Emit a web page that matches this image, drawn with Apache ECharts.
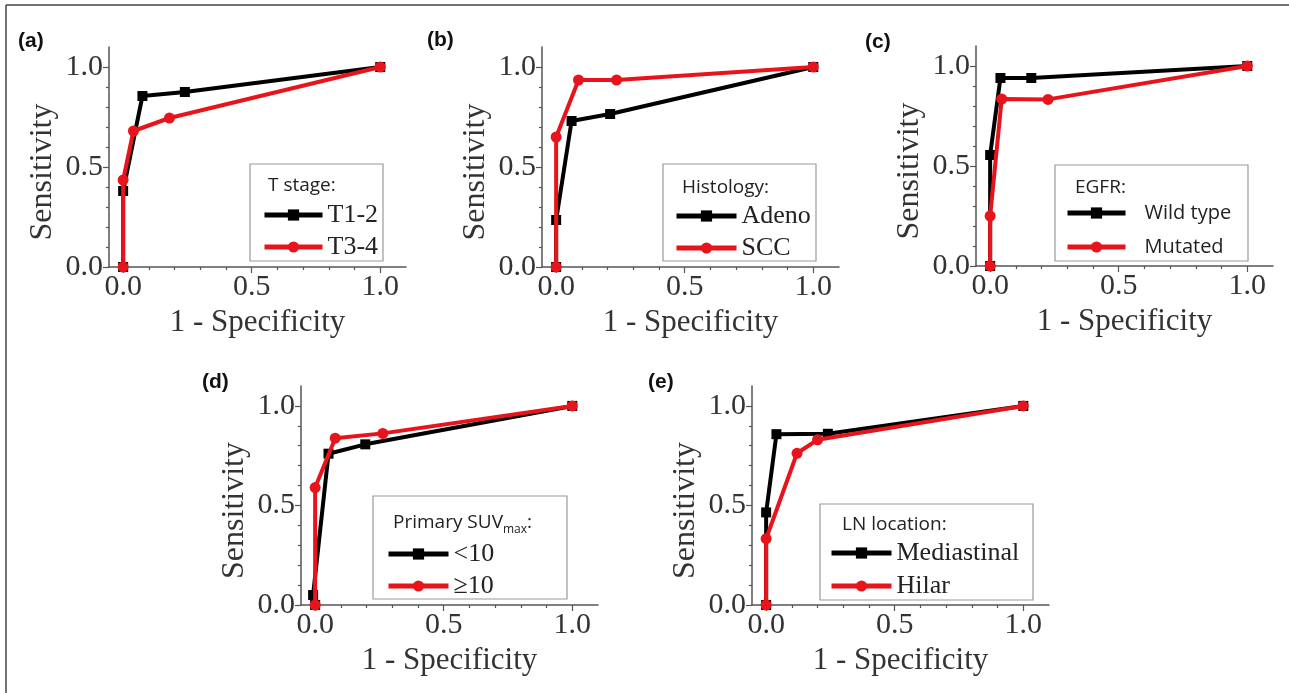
<!DOCTYPE html>
<html>
<head>
<meta charset="utf-8">
<script src="https://cdn.jsdelivr.net/npm/echarts@6/dist/echarts.min.js"></script>
<style>
html,body{margin:0;padding:0;background:#fff;}
#main{width:1289px;height:693px;}
</style>
</head>
<body>
<div id="main"></div>
<script>
// tick labels
var majorTicks = [0, 0.5, 1.0];
var minorTicks = [0.1, 0.2, 0.3, 0.4, 0.6, 0.7, 0.8, 0.9];

// (a) T stage
var tStage12 = [[0, 0], [0, 0.38], [0.075, 0.855], [0.24, 0.875], [1, 1]];
var tStage34 = [[0, 0], [0, 0.435], [0.04, 0.68], [0.18, 0.745], [1, 1]];
// (b) Histology
var histAdeno = [[0, 0], [0, 0.235], [0.06, 0.73], [0.21, 0.765], [1, 1]];
var histSCC = [[0, 0], [0, 0.65], [0.087, 0.935], [0.235, 0.935], [1, 1]];
// (c) EGFR
var egfrWild = [[0, 0], [0, 0.555], [0.04, 0.94], [0.16, 0.94], [1, 1]];
var egfrMut = [[0, 0], [0, 0.25], [0.045, 0.835], [0.225, 0.833], [1, 1]];
// (d) Primary SUVmax
var suvLow = [[0, 0], [-0.008, 0.05], [0.052, 0.76], [0.195, 0.807], [1, 1]];
var suvHigh = [[0, 0], [0, 0.59], [0.078, 0.838], [0.263, 0.862], [1, 1]];
// (e) LN location
var lnMed = [[0, 0], [0, 0.465], [0.04, 0.858], [0.24, 0.86], [1, 1]];
var lnHilar = [[0, 0], [0, 0.333], [0.12, 0.762], [0.2, 0.83], [1, 1]];

var panels = [
    {tag: '(a)', title: 'T stage:', names: ['T1-2', 'T3-4'], data: [tStage12, tStage34]},
    {tag: '(b)', title: 'Histology:', names: ['Adeno', 'SCC'], data: [histAdeno, histSCC]},
    {tag: '(c)', title: 'EGFR:', names: ['Wild type', 'Mutated'], data: [egfrWild, egfrMut]},
    {tag: '(d)', title: '{a|Primary SUV}{s|max}{a|:}', names: ['<10', '≥10'], data: [suvLow, suvHigh]},
    {tag: '(e)', title: 'LN location:', names: ['Mediastinal', 'Hilar'], data: [lnMed, lnHilar]}
];

// positions of each panel
var layout = [
    {left: 109, top: 47, h: 220, tag: [18, 41], box: [250, 164, 133, 97], tt: [268, 186], leg: [262, 202], gap: 6, w: 58, sans: false},
    {left: 542, top: 47, h: 220, tag: [427, 40], box: [663, 164, 153, 97], tt: [682, 188], leg: [674, 203], gap: 6, w: 60, sans: false},
    {left: 976, top: 46, h: 220, tag: [865, 42], box: [1055, 165, 193, 96], tt: [1075, 188], leg: [1065, 200], gap: 8, w: 58, sans: true},
    {left: 301, top: 386, h: 219, tag: [202, 382], box: [373, 496, 194, 103], tt: [393, 523], leg: [386, 541], gap: 6, w: 60, sans: false},
    {left: 752, top: 386, h: 219, tag: [648, 382], box: [820, 504, 213, 96], tt: [842, 525], leg: [829, 540], gap: 7, w: 60, sans: false}
];

var colors = ['#000000', '#e8141b'];
var symbols = ['rect', 'circle'];
var axisColor = '#555';
var textColor = '#333';
var serif = '"Liberation Serif", "DejaVu Serif", serif';
var sans = '"Open Sans", "Noto Sans", sans-serif';

var grids = [], xAxes = [], yAxes = [], series = [], legends = [];
var graphics = [
    {type: 'line', shape: {x1: 6, y1: 5, x2: 6, y2: 693}, style: {stroke: '#444', lineWidth: 1.5}},
    {type: 'line', shape: {x1: 6, y1: 5, x2: 1289, y2: 5}, style: {stroke: '#444', lineWidth: 1.5}}
];

function fmt(v) { return v.toFixed(1); }

panels.forEach(function (p, k) {
    var L = layout[k];
    grids.push({left: L.left, top: L.top, width: 297, height: L.h});
    var axisBase = {
        gridIndex: k, type: 'value',
        splitLine: {show: false}
    };
    xAxes.push(Object.assign({}, axisBase, {
        min: -0.055, max: 1.1, position: 'bottom',
        axisLine: {show: true, onZero: false, lineStyle: {color: axisColor, width: 1.5}},
        axisTick: {show: true, customValues: majorTicks, length: 6, lineStyle: {color: axisColor, width: 1.2}},
        axisLabel: {customValues: majorTicks, formatter: fmt, fontFamily: serif, fontSize: 30, color: textColor, margin: 5},
        name: '1 - Specificity', nameLocation: 'middle', nameGap: 40,
        nameTextStyle: {fontFamily: serif, fontSize: 31, color: textColor}
    }));
    xAxes.push(Object.assign({}, axisBase, {
        min: -0.055, max: 1.1, position: 'bottom',
        axisLine: {show: false, onZero: false},
        axisTick: {show: true, customValues: minorTicks, length: 3, lineStyle: {color: axisColor, width: 1.2}},
        axisLabel: {show: false}
    }));
    yAxes.push(Object.assign({}, axisBase, {
        min: 0, max: 1.1, position: 'left',
        axisLine: {show: true, onZero: false, lineStyle: {color: axisColor, width: 1.5}},
        axisTick: {show: true, customValues: majorTicks, length: 6, lineStyle: {color: axisColor, width: 1.2}},
        axisLabel: {customValues: majorTicks, formatter: fmt, fontFamily: serif, fontSize: 30, color: textColor, margin: 6},
        name: 'Sensitivity', nameLocation: 'middle', nameGap: 50,
        nameTextStyle: {fontFamily: serif, fontSize: 32, color: textColor, padding: [0, 30, 0, 0]}
    }));
    yAxes.push(Object.assign({}, axisBase, {
        min: 0, max: 1.1, position: 'left',
        axisLine: {show: false, onZero: false},
        axisTick: {show: true, customValues: minorTicks, length: 3, lineStyle: {color: axisColor, width: 1.2}},
        axisLabel: {show: false}
    }));

    p.names.forEach(function (nm, i) {
        series.push({
            type: 'line', name: nm,
            xAxisIndex: 2 * k, yAxisIndex: 2 * k,
            data: p.data[i],
            symbol: symbols[i], symbolSize: i == 0 ? 10 : 11,
            showSymbol: true,
            lineStyle: {width: 4, color: colors[i]},
            itemStyle: {color: colors[i]},
            z: 3 + i
        });
    });

    legends.push({
        data: p.names, orient: 'vertical',
        left: L.leg[0], top: L.leg[1],
        itemWidth: L.w, itemHeight: 14, itemGap: L.gap,
        padding: 0, selectedMode: false,
        lineStyle: {width: 5},
        textStyle: L.sans ?
            {fontFamily: sans, fontSize: 20, lineHeight: 26, color: '#222', padding: [0, 0, 0, 14]} :
            {fontFamily: serif, fontSize: 26, lineHeight: 26, color: '#222'}
    });

    graphics.push({
        type: 'rect', shape: {x: L.box[0], y: L.box[1], width: L.box[2], height: L.box[3]},
        style: {fill: 'none', stroke: '#999', lineWidth: 1.2}, z: 1
    });
    graphics.push({
        type: 'text', x: L.tt[0], y: L.tt[1],
        style: {
            text: p.title, fill: '#222', font: '19px ' + sans, verticalAlign: 'middle',
            rich: {
                a: {fontFamily: sans, fontSize: 19, lineHeight: 24},
                s: {fontFamily: sans, fontSize: 12, lineHeight: 12, padding: [14, 0, 0, 0]}
            }
        }
    });
    graphics.push({
        type: 'text', x: L.tag[0], y: L.tag[1],
        style: {text: p.tag, fill: '#111', font: 'bold 21px "Liberation Sans", Arial, sans-serif', verticalAlign: 'middle'}
    });
});

var chart = echarts.init(document.getElementById('main'));
chart.setOption({
    backgroundColor: '#fff',
    animation: false,
    grid: grids,
    xAxis: xAxes,
    yAxis: yAxes,
    legend: legends,
    series: series,
    graphic: graphics
});
window.onresize = chart.resize;
</script>
</body>
</html>
